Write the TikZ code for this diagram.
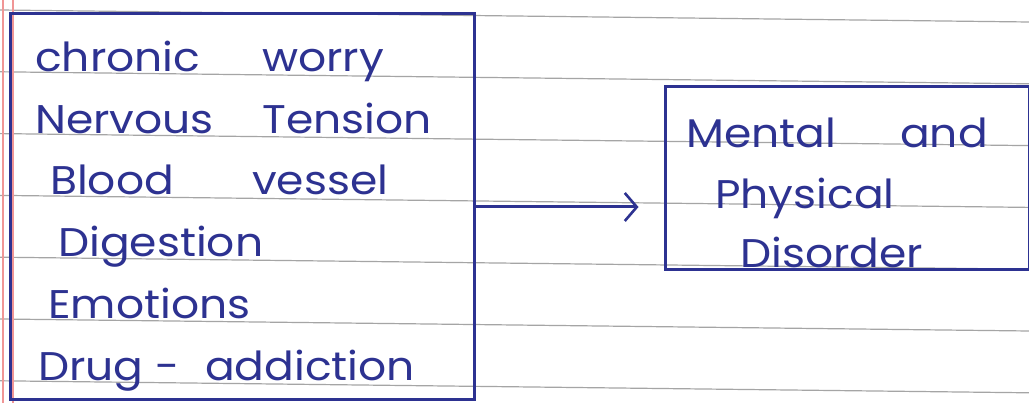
\documentclass[tikz,border=0pt]{standalone}
\usepackage{fontspec}
\setmainfont{Poppins}[FakeStretch=1.1]
\usetikzlibrary{arrows.meta,calc}
\definecolor{ink}{RGB}{45,50,145}
\definecolor{rulegray}{RGB}{165,165,165}
\definecolor{marginred}{RGB}{240,150,150}
\tikzset{
  ruleline/.style={draw=rulegray, line width=1.2pt},
  marginline/.style={draw=marginred, line width=1.5pt},
  box/.style={draw=ink, line width=3pt, inner sep=0pt},
  word/.style={text=ink, inner sep=0pt, anchor=base west, font=\fontsize{40}{46}\selectfont},
  conn/.style={draw=ink, line width=3pt, -{Straight Barb[length=12pt,width=28pt,line width=2.6pt]}}
}
\begin{document}
\begin{tikzpicture}[x=1pt,y=-1pt]
\useasboundingbox (0,0) rectangle (1029,403);
\fill[white] (0,0) rectangle (1029,403);
% notebook ruling
\foreach \i in {0,...,6}{
  \draw[ruleline] (0,{10+61.8*\i}) -- (1029,{22+61.8*\i});
}
\draw[marginline] (3,0) -- (3,403);
\draw[marginline] (13,0) -- (13,403);
% boxes
\node[box, minimum width=464pt, minimum height=386pt] (L) at (242,207) {};
\node[box, minimum width=364pt, minimum height=183pt] (R) at (847,178.5) {};
% left texts
\node[word] (t1) at (35,72)  {\makebox[227pt][l]{chronic}worry};
\node[word] (t2) at (35,134) {\makebox[227pt][l]{Nervous}Tension};
\node[word] (t3) at (50,195) {\makebox[202pt][l]{Blood}vessel};
\node[word] (t4) at (58,257) {Digestion};
\node[word] (t5) at (48,319) {Emotions};
\node[word] (t6) at (38,381) {\makebox[117pt][l]{Drug}\makebox[50pt][l]{-}addiction};
% right texts
\node[word] (r1) at (686,148) {\makebox[214pt][l]{Mental}and};
\node[word] (r2) at (715,209) {Physical};
\node[word] (r3) at (740,268) {Disorder};
% connector
\draw[conn] (L.east) -- ([xshift=-25pt]R.west |- L.east);
\end{tikzpicture}
\end{document}
